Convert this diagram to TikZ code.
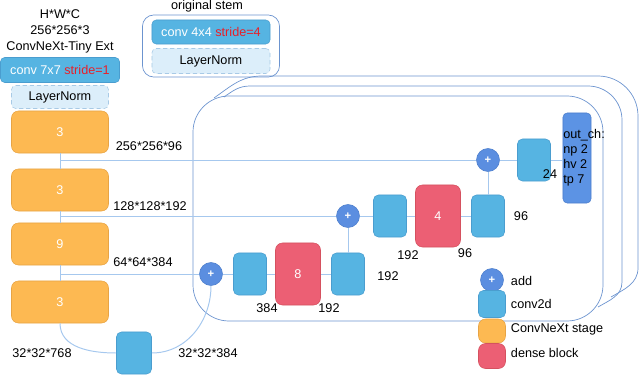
\documentclass[tikz,border=0pt]{standalone}
\usepackage{fontspec}
\setmainfont{Liberation Sans}
\usetikzlibrary{arrows}
\definecolor{convblue}{HTML}{56B4E2}
\definecolor{convline}{HTML}{4A9DCF}
\definecolor{stageorange}{HTML}{FDB952}
\definecolor{stageline}{HTML}{E8A444}
\definecolor{densered}{HTML}{EC5F74}
\definecolor{denseline}{HTML}{D5515F}
\definecolor{addblue}{HTML}{5B8EE0}
\definecolor{addline}{HTML}{4B7DCC}
\definecolor{outblue}{HTML}{5C93E4}
\definecolor{lnfill}{HTML}{DCEEFA}
\definecolor{lnline}{HTML}{A8CAE6}
\definecolor{linkblue}{HTML}{A6C8EE}
\definecolor{frameblue}{HTML}{6C94CF}
\definecolor{strideRed}{HTML}{E8202A}
\tikzset{
  convbox/.style={draw=convline, fill=convblue, rounded corners=3.5pt, minimum width=0.825cm, minimum height=1.05cm, inner sep=0pt},
  denseblk/.style={draw=denseline, fill=densered, rounded corners=5pt, minimum width=1.125cm, minimum height=1.55cm, inner sep=0pt, text=white},
  stagebox/.style={draw=stageline, fill=stageorange, rounded corners=5pt, minimum width=2.425cm, minimum height=1.05cm, inner sep=0pt, text=white},
  addnode/.style={circle, draw=addline, fill=addblue, minimum size=0.575cm, inner sep=0pt, text=white, font=\fontsize{8}{8}\selectfont\bfseries},
  lnbox/.style={draw=lnline, densely dashed, fill=lnfill, rounded corners=3pt, inner sep=0pt},
  headbox/.style={draw=convline, fill=convblue, rounded corners=3pt, inner sep=0pt, text=white},
  link/.style={draw=linkblue, line width=0.7pt},
  frame/.style={draw=frameblue, line width=0.5pt}
}
\begin{document}
\begin{tikzpicture}[x=0.025cm, y=-0.025cm, font=\fontsize{9}{10.6}\selectfont]
	%\draw[help lines] (0,0) grid[step=20] (640,375);
	\useasboundingbox (0,0) rectangle (640,375);
% stacked frames
	\draw[frame] (214,98) to[out=35,in=180] (262,76) -- (598,76) to[out=0,in=90] (638,116) -- (638,268) to[out=-90,in=30] (611,297);
	\draw[frame] (224,97) to[out=35,in=180] (250,86) -- (588,86) to[out=0,in=90] (622,120) -- (622,282) to[out=-90,in=30] (598,307);
	\draw[frame, rounded corners=0.9cm] (193,96) rectangle (603,321);
% left column
	\node (hwc) at (60,14) {H*W*C};
	\node (insize) at (60,30) {256*256*3};
	\node (exttitle) at (60,47) {ConvNeXt-Tiny Ext};
	\node[headbox, minimum width=2.975cm, minimum height=0.625cm] (conv7) at (60,70) {conv 7x7 \textcolor{strideRed}{stride=1}};
	\node[lnbox, minimum width=2.425cm, minimum height=0.575cm] (ln1) at (60,97) {LayerNorm};
	\node[stagebox] (st1) at (60,132) {3};
	\node[stagebox] (st2) at (60,190) {3};
	\node[stagebox] (st3) at (60,244) {9};
	\node[stagebox] (st4) at (60,302) {3};
% original stem
	\node[frame, rounded corners=8pt, minimum width=3.425cm, minimum height=1.55cm] (stem) at (211,46) {};
	\node (stemtitle) at (207,6) {original stem};
	\node[headbox, minimum width=2.95cm, minimum height=0.6cm] (conv4) at (211,32) {conv 4x4 \textcolor{strideRed}{stride=4}};
	\node[lnbox, minimum width=2.95cm, minimum height=0.625cm] (ln2) at (211,61) {LayerNorm};
% decoder
	\node[addnode] (plus1) at (211,274) {+};
	\node[convbox] (c31) at (250,274) {};
	\node[denseblk] (d3) at (298,274) {8};
	\node[convbox] (c32) at (348,274) {};
	\node[addnode] (plus2) at (348,216) {+};
	\node[convbox] (c21) at (390,216) {};
	\node[denseblk] (d2) at (438,216) {4};
	\node[convbox] (c22) at (488,216) {};
	\node[addnode] (plus3) at (488,160) {+};
	\node[convbox] (c11) at (534,160) {};
	\node[draw=addline, fill=outblue, rounded corners=3pt, minimum width=0.7cm, minimum height=2.25cm, inner sep=0pt] (out) at (577,158) {};
	\node[anchor=north west, align=left, inner sep=0pt] (outtxt) at (563,129) {out\_ch:\\np 2\\hv 2\\tp 7};
	\node[convbox, minimum width=0.875cm] (cb) at (134,353) {};
	\coordinate (b1) at (60,160);
	\coordinate (b2) at (60,216);
	\coordinate (b3) at (60,274);
% connectors
	\draw[link] (st1) -- (st2);
	\draw[link] (st2) -- (st3);
	\draw[link] (st3) -- (st4);
	\draw[link] (b1) -- (plus3);
	\draw[link] (b2) -- (plus2);
	\draw[link] (b3) -- (plus1);
	\draw[link] (plus1) -- (c31);
	\draw[link] (c31) -- (d3);
	\draw[link] (d3) -- (c32);
	\draw[link] (c32) -- (plus2);
	\draw[link] (plus2) -- (c21);
	\draw[link] (c21) -- (d2);
	\draw[link] (d2) -- (c22);
	\draw[link] (c22) -- (plus3);
	\draw[link] (plus3) -- (c11);
	\draw[link] (c11.east) -- (c11.east -| out.west);
	\draw[link] (st4.south) to[out=-90,in=180] (cb.west);
	\draw[link] (cb.east) to[out=0,in=-90] (plus1.south);
% sizes
	\node (s1) at (149,146) {256*256*96};
	\node (s2) at (150,206) {128*128*192};
	\node (s3) at (143,262) {64*64*384};
	\node (s4) at (42,353) {32*32*768};
	\node (s5) at (208,353) {32*32*384};
	\node (n384) at (267,308) {384};
	\node (n192a) at (329,308) {192};
	\node (n192b) at (388,276) {192};
	\node (n192c) at (408,255) {192};
	\node (n96a) at (465,253) {96};
	\node (n96b) at (521,216) {96};
	\node (n24) at (550,174) {24};
% legend
	\node[addnode] (lgadd) at (492,280) {+};
	\node[anchor=west] (lgaddtxt) at (506,281) {add};
	\node[convbox, minimum width=0.675cm, minimum height=0.675cm] (lgconv) at (492,304) {};
	\node[anchor=west] (lgconvtxt) at (506,304) {conv2d};
	\node[stagebox, minimum width=0.675cm, minimum height=0.6cm] (lgstage) at (492,331) {};
	\node[anchor=west] (lgstagetxt) at (506,329) {ConvNeXt stage};
	\node[denseblk, minimum width=0.675cm, minimum height=0.625cm] (lgdense) at (492,356) {};
	\node[anchor=west] (lgdensetxt) at (506,353) {dense block};
\end{tikzpicture}
\end{document}
